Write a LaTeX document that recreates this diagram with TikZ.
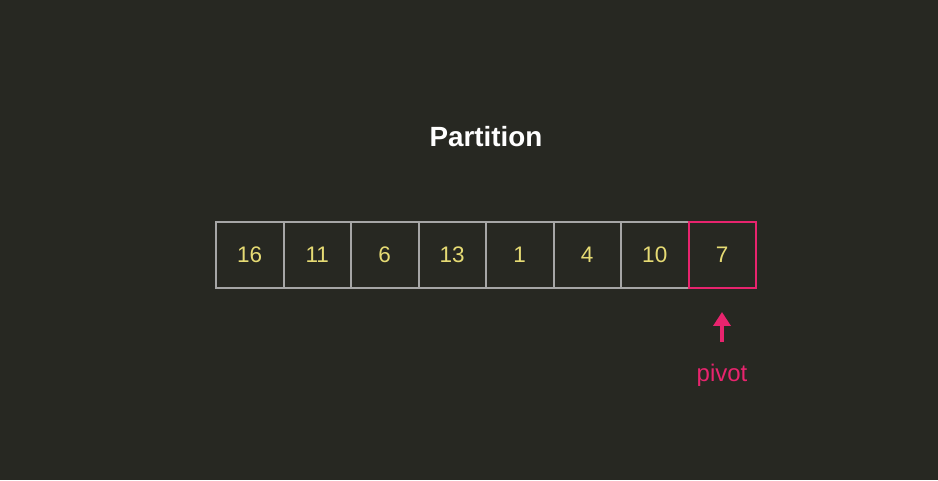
\documentclass[tikz,border=0pt]{standalone}
\usepackage{fontspec}
\setmainfont{Liberation Sans}
\usetikzlibrary{arrows.meta}
\definecolor{bgc}{HTML}{272822}
\definecolor{numc}{HTML}{E6DB74}
\definecolor{pinkc}{HTML}{E8246E}
\definecolor{boxc}{HTML}{A6A6A6}
\tikzset{
  cell/.style={draw=boxc, line width=2pt, minimum width=67.5pt, minimum height=66pt,
    inner sep=0pt, outer sep=0pt, text=numc, font=\fontsize{22.5}{24}\selectfont},
  pivotcell/.style={cell, draw=pinkc},
  ttl/.style={text=white, font=\bfseries\fontsize{27.8}{30}\selectfont, anchor=base},
  lbl/.style={text=pinkc, font=\fontsize{24}{26}\selectfont, anchor=base},
  parrow/.style={draw=pinkc, line width=4.5pt, -{Triangle[width=17pt,length=14pt]}}
}
\begin{document}
\begin{tikzpicture}[x=1pt,y=1pt]
\fill[bgc] (0,0) rectangle (938,480);
\useasboundingbox (0,0) rectangle (938,480);
\node[ttl] (title) at (486,333) {Partition};
\foreach \v [count=\i] in {16,11,6,13,1,4,10} {
  \node[cell] (b\i) at ({216+33.75+67.5*(\i-1)},225) {\v};
}
\node[pivotcell] (b8) at ({216+33.75+67.5*7},225) {7};
\node[lbl] (piv) at (722,99) {pivot};
\coordinate (as) at (722,138);
\coordinate (ae) at (722,168);
\draw[parrow] (as) -- (ae);
\end{tikzpicture}
\end{document}
